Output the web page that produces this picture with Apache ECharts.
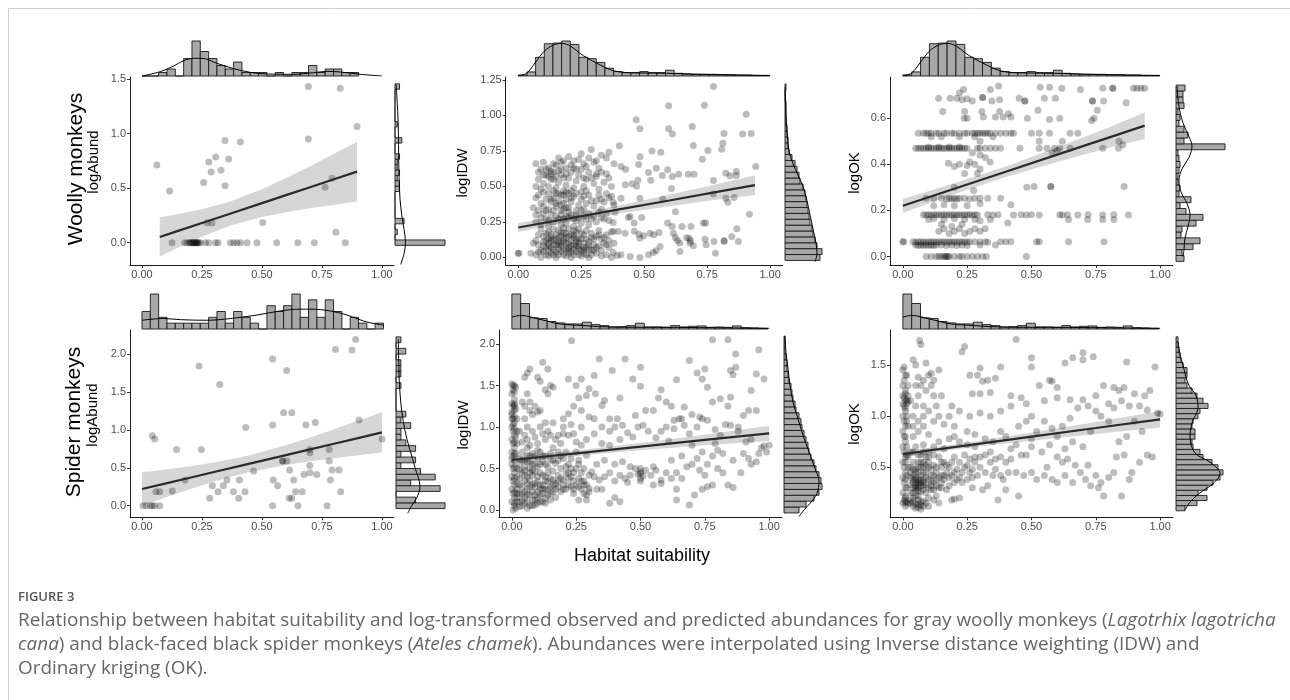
<!DOCTYPE html>
<html><head><meta charset="utf-8">
<script src="https://cdn.jsdelivr.net/npm/echarts@6/dist/echarts.min.js"></script>
<style>html,body{margin:0;padding:0;background:#fff}#c{width:1290px;height:700px}</style>
</head><body><div id="c"></div><script>
// ---------------- DATA ----------------
const X_TICKS = [0, 0.25, 0.5, 0.75, 1];
const yTicksWoollyAbund = [0, 0.5, 1, 1.5];
const yTicksWoollyIDW = [0, 0.25, 0.5, 0.75, 1, 1.25];
const yTicksWoollyOK = [0, 0.2, 0.4, 0.6];
const yTicksSpiderAbund = [0, 0.5, 1, 1.5, 2];
const yTicksSpiderIDW = [0, 0.5, 1, 1.5, 2];
const yTicksSpiderOK = [0.5, 1, 1.5];

// observed points [habitat suitability, log value]
const woollyAbund = [[0.062,0.713],[0.115,0.474],[0.125,0],[0.178,0],[0.188,0],[0.198,0],[0.2,0],[0.205,0],[0.21,0],[0.215,0],[0.215,0],[0.22,0],[0.225,0],[0.225,0],[0.23,0],[0.232,0],[0.236,0],[0.243,0],[0.264,0],[0.278,0],[0.306,0],[0.317,0],[0.271,0.18],[0.292,0.18],[0.257,0.551],[0.278,0.741],[0.288,0.649],[0.307,0.787],[0.329,0.664],[0.346,0.937],[0.346,0.523],[0.361,0.768],[0.41,0.924],[0.368,0],[0.382,0],[0.396,0],[0.41,0],[0.4375,0],[0.479,0],[0.503,0.184],[0.561,0],[0.649,0],[0.693,1.432],[0.693,0.952],[0.718,0],[0.7625,0.508],[0.792,0.59],[0.808,0.095],[0.826,1.417],[0.847,0],[0.896,1.065]];

const woollyIDW = [[0,0.03],[0.002,0.03],[0.05,0.03],[0.07,0.02],[0.09,0],[0.1,0.04],[0.12,0.01],[0.13,0.03],[0.15,0],[0.16,0.02],[0.17,0.04],[0.19,0.01],[0.2,0.03],[0.21,0],[0.22,0.02],[0.23,0.04],[0.25,0.01],[0.26,0.03],[0.28,0],[0.29,0.02],[0.31,0.03],[0.33,0.01],[0.35,0.02],[0.37,0],[0.14,0.05],[0.18,0.06],[0.24,0.06],[0.11,0.07],
[0.08,0.09],[0.1,0.08],[0.12,0.1],[0.13,0.07],[0.15,0.09],[0.16,0.11],[0.17,0.08],[0.19,0.1],[0.2,0.07],[0.21,0.12],[0.22,0.09],[0.23,0.11],[0.24,0.08],[0.26,0.1],[0.27,0.07],[0.28,0.11],[0.3,0.09],[0.32,0.08],[0.34,0.1],[0.36,0.07],[0.07,0.12],[0.11,0.12],[0.14,0.12],[0.18,0.13],[0.25,0.13],[0.29,0.14],[0.33,0.13],
[0.08,0.16],[0.1,0.15],[0.12,0.18],[0.13,0.14],[0.15,0.16],[0.16,0.19],[0.17,0.15],[0.19,0.17],[0.2,0.2],[0.21,0.16],[0.22,0.14],[0.23,0.18],[0.24,0.2],[0.26,0.16],[0.27,0.19],[0.29,0.17],[0.31,0.15],[0.32,0.19],[0.35,0.16],[0.37,0.18],[0.09,0.2],[0.18,0.21],[0.14,0.2],
[0.07,0.25],[0.09,0.23],[0.11,0.27],[0.12,0.22],[0.14,0.25],[0.15,0.29],[0.17,0.23],[0.18,0.27],[0.19,0.24],[0.2,0.28],[0.22,0.22],[0.23,0.26],[0.25,0.24],[0.26,0.29],[0.28,0.23],[0.29,0.27],[0.31,0.25],[0.33,0.28],[0.36,0.26],[0.21,0.3],[0.13,0.3],[0.1,0.31],
[0.06,0.35],[0.08,0.33],[0.09,0.38],[0.1,0.36],[0.11,0.41],[0.12,0.34],[0.13,0.39],[0.14,0.42],[0.15,0.36],[0.16,0.4],[0.17,0.33],[0.17,0.44],[0.18,0.38],[0.19,0.41],[0.2,0.35],[0.21,0.39],[0.22,0.43],[0.23,0.33],[0.24,0.37],[0.25,0.41],[0.26,0.34],[0.27,0.38],[0.28,0.44],[0.3,0.36],[0.31,0.4],[0.33,0.34],[0.34,0.39],[0.36,0.42],[0.38,0.37],[0.07,0.42],[0.15,0.45],[0.2,0.45],[0.25,0.46],
[0.07,0.5],[0.08,0.55],[0.09,0.48],[0.1,0.52],[0.11,0.58],[0.12,0.5],[0.13,0.55],[0.14,0.6],[0.15,0.49],[0.16,0.53],[0.17,0.58],[0.18,0.47],[0.19,0.51],[0.2,0.56],[0.21,0.6],[0.22,0.49],[0.23,0.54],[0.24,0.58],[0.26,0.5],[0.27,0.55],[0.28,0.6],[0.3,0.52],[0.31,0.57],[0.32,0.48],[0.34,0.53],[0.35,0.59],[0.37,0.5],
[0.07,0.66],[0.09,0.62],[0.1,0.67],[0.12,0.63],[0.13,0.61],[0.15,0.65],[0.16,0.7],[0.18,0.68],[0.19,0.63],[0.2,0.71],[0.21,0.65],[0.23,0.62],[0.24,0.69],[0.25,0.73],[0.27,0.64],[0.28,0.7],[0.29,0.76],[0.3,0.67],[0.32,0.63],[0.33,0.72],[0.35,0.7],[0.36,0.74],[0.38,0.66],[0.31,0.59],
[0.09,0.05],[0.11,0.02],[0.13,0.12],[0.15,0.04],[0.17,0.1],[0.19,0.06],[0.21,0.04],[0.23,0.08],[0.25,0.05],[0.27,0.02],[0.12,0.05],[0.16,0.06],[0.2,0.1],[0.24,0.02],[0.28,0.06],[0.18,0.02],[0.22,0.06],[0.14,0.09],[0.26,0.07],[0.3,0.05],[0.16,0.14],[0.2,0.15],[0.24,0.13],[0.18,0.17],[0.22,0.19],[0.12,0.13],[0.13,0.41],[0.17,0.37],[0.21,0.42],[0.19,0.35],[0.15,0.38],[0.12,0.57],[0.16,0.61],[0.14,0.55],[0.18,0.56],
[0.06,0.1],[0.08,0.04],[0.1,0.11],[0.11,0.17],[0.12,0.08],[0.13,0.16],[0.14,0.02],[0.15,0.13],[0.16,0.09],[0.17,0.18],[0.18,0.11],[0.19,0.14],[0.2,0.05],[0.21,0.08],[0.22,0.16],[0.23,0.13],[0.24,0.1],[0.25,0.17],[0.26,0.05],[0.27,0.13],[0.28,0.09],[0.29,0.05],[0.3,0.13],[0.31,0.07],[0.32,0.16],[0.33,0.05],[0.34,0.14],[0.35,0.09],[0.36,0.12],[0.38,0.1],
[0.07,0.3],[0.09,0.28],[0.11,0.33],[0.12,0.26],[0.14,0.33],[0.16,0.27],[0.17,0.3],[0.18,0.34],[0.19,0.29],[0.2,0.32],[0.22,0.27],[0.23,0.3],[0.24,0.28],[0.25,0.33],[0.27,0.27],[0.28,0.31],[0.3,0.29],[0.32,0.32],[0.34,0.27],[0.35,0.31],
[0.08,0.44],[0.1,0.46],[0.12,0.45],[0.14,0.47],[0.16,0.45],[0.18,0.44],[0.19,0.46],[0.21,0.47],[0.23,0.45],[0.26,0.43],[0.27,0.47],[0.29,0.4],[0.32,0.44],[0.33,0.41],[0.35,0.45],[0.37,0.43],
[0.08,0.6],[0.1,0.58],[0.11,0.62],[0.13,0.59],[0.15,0.57],[0.17,0.62],[0.19,0.59],[0.22,0.63],[0.25,0.62],[0.26,0.56],[0.29,0.56],[0.33,0.6],[0.36,0.56],[0.14,0.66],[0.17,0.67],[0.22,0.68],[0.26,0.66],[0.31,0.68],
[0.468,0.969],[0.597,1.067],[0.483,0.905],[0.597,0.905],[0.612,0.868],[0.691,0.922],[0.739,1.072],[0.775,1.203],[0.905,1.008],[0.891,0.868],[0.925,0.872],[0.817,0.872],[0.812,0.804],[0.808,0.762],[0.753,0.753],[0.695,0.788],[0.731,0.692],[0.943,0.64],[0.531,0.75],[0.566,0.741],[0.483,0.708],[0.478,0.654],[0.401,0.786],[0.408,0.64],[0.426,0.621],[0.548,0.628],[0.517,0.598],[0.593,0.617],[0.637,0.586],[0.675,0.586],[0.698,0.586],[0.572,0.577],[0.612,0.57],[0.475,0.544],[0.425,0.511],[0.452,0.518],[0.47,0.502],[0.526,0.544],[0.608,0.485],[0.775,0.542],[0.824,0.593],[0.841,0.575],[0.866,0.577],[0.866,0.605],[0.775,0.446],[0.824,0.417],[0.857,0.422],[0.832,0.389],[0.483,0.417],[0.574,0.41],[0.408,0.417],[0.437,0.281],[0.49,0.281],[0.624,0.321],[0.918,0.305],[0.735,0.242],[0.744,0.242],[0.593,0.242],[0.611,0.218],[0.46,0.242],[0.377,0.246],[0.686,0.218],[0.65,0.218],[0.377,0.185],[0.397,0.183],[0.424,0.171],[0.461,0.185],[0.479,0.164],[0.483,0.136],[0.498,0.152],[0.523,0.171],[0.538,0.159],[0.559,0.176],[0.616,0.171],[0.624,0.141],[0.632,0.12],[0.641,0.101],[0.668,0.138],[0.679,0.136],[0.682,0.101],[0.684,0.117],[0.742,0.129],[0.777,0.113],[0.817,0.12],[0.818,0.113],[0.848,0.148],[0.868,0.202],[0.874,0.113],[0.783,0.03],[0.746,0.089],[0.695,0.082],[0.642,0.042],[0.563,0.077],[0.547,0.047],[0.536,0.035],[0.517,0.019],[0.483,0],[0.444,0.007],[0.408,0.019],[0.393,0.014],[0.377,0.035],[0.444,0.288],[0.377,0.389],[0.384,0.319]];

const woollyOK = [[0.09,0],[0.11,0],[0.13,0],[0.14,0],[0.15,0],[0.16,0],[0.165,0],[0.17,0],[0.175,0],[0.18,0],[0.2,0],[0.22,0],[0.23,0],[0.25,0],[0.27,0],[0.29,0],[0.31,0],[0.325,0],[0.48,0],
[0,0.064],[0.003,0.064],[0.04,0.064],[0.05,0.062],[0.06,0.064],[0.07,0.063],[0.08,0.064],[0.09,0.062],[0.1,0.064],[0.11,0.063],[0.12,0.064],[0.13,0.062],[0.14,0.064],[0.15,0.063],[0.16,0.064],[0.17,0.062],[0.18,0.064],[0.19,0.063],[0.2,0.064],[0.21,0.062],[0.22,0.064],[0.23,0.063],[0.24,0.064],[0.25,0.062],[0.26,0.064],[0.28,0.064],[0.3,0.063],[0.32,0.064],[0.33,0.062],[0.38,0.064],[0.4,0.064],[0.42,0.064],[0.52,0.064],[0.53,0.064],[0.644,0.064],[0.782,0.064],
[0.05,0.05],[0.06,0.048],[0.07,0.05],[0.08,0.048],[0.09,0.05],[0.1,0.048],[0.11,0.05],[0.12,0.048],[0.13,0.05],[0.15,0.05],[0.17,0.048],[0.19,0.05],[0.21,0.048],[0.23,0.05],[0.25,0.048],[0.3,0.05],[0.36,0.05],
[0.14,0.11],[0.16,0.12],[0.18,0.1],[0.2,0.11],[0.22,0.12],[0.24,0.1],[0.26,0.11],[0.28,0.12],[0.3,0.11],[0.32,0.12],[0.15,0.14],[0.19,0.13],[0.23,0.14],[0.408,0.145],
[0.08,0.181],[0.09,0.18],[0.1,0.181],[0.11,0.18],[0.12,0.181],[0.13,0.18],[0.14,0.181],[0.15,0.18],[0.16,0.181],[0.17,0.18],[0.18,0.181],[0.19,0.18],[0.2,0.181],[0.21,0.18],[0.22,0.181],[0.23,0.18],[0.24,0.181],[0.25,0.18],[0.26,0.181],[0.27,0.18],[0.28,0.181],[0.29,0.18],[0.33,0.181],[0.35,0.18],[0.37,0.181],[0.43,0.18],[0.46,0.181],[0.48,0.18],[0.5,0.181],[0.53,0.18],[0.61,0.181],[0.62,0.18],[0.64,0.181],[0.68,0.18],[0.72,0.181],[0.777,0.18],[0.82,0.181],[0.877,0.18],
[0.1,0.16],[0.12,0.165],[0.16,0.16],[0.2,0.165],[0.24,0.16],[0.28,0.16],[0.3,0.155],[0.34,0.16],[0.644,0.16],[0.718,0.16],[0.777,0.16],[0.82,0.16],
[0.09,0.253],[0.12,0.253],[0.15,0.253],[0.17,0.25],[0.18,0.253],[0.19,0.25],[0.2,0.253],[0.21,0.25],[0.22,0.253],[0.24,0.253],[0.26,0.25],[0.28,0.253],[0.3,0.253],[0.33,0.253],[0.38,0.253],
[0.12,0.22],[0.16,0.225],[0.2,0.22],[0.25,0.22],[0.3,0.23],[0.42,0.224],
[0.275,0.286],[0.482,0.3],[0.51,0.304],[0.575,0.304],[0.575,0.304],[0.86,0.304],[0.2,0.3],
[0.177,0.405],[0.2,0.39],[0.22,0.4],[0.25,0.395],[0.26,0.41],[0.28,0.4],[0.3,0.38],[0.339,0.41],[0.24,0.36],[0.29,0.36],
[0.05,0.47],[0.06,0.47],[0.07,0.47],[0.08,0.47],[0.09,0.47],[0.1,0.47],[0.11,0.47],[0.12,0.47],[0.13,0.47],[0.14,0.47],[0.15,0.47],[0.16,0.47],[0.17,0.47],[0.18,0.47],[0.19,0.47],[0.2,0.47],[0.21,0.47],[0.22,0.47],[0.23,0.47],[0.24,0.47],[0.25,0.47],[0.29,0.47],[0.3,0.47],[0.32,0.47],[0.34,0.47],[0.36,0.47],[0.38,0.47],[0.455,0.47],[0.53,0.47],[0.56,0.47],[0.59,0.47],[0.61,0.47],[0.65,0.47],[0.777,0.47],[0.838,0.47],[0.1,0.475],[0.14,0.475],[0.18,0.475],[0.22,0.475],
[0.27,0.45],[0.3,0.44],[0.58,0.45],[0.6,0.46],[0.32,0.43],
[0.3,0.5],[0.53,0.5],[0.62,0.5],[0.84,0.5],[0.855,0.485],
[0.06,0.535],[0.08,0.535],[0.09,0.535],[0.1,0.535],[0.11,0.535],[0.13,0.535],[0.14,0.535],[0.16,0.535],[0.17,0.535],[0.19,0.535],[0.2,0.535],[0.22,0.535],[0.24,0.535],[0.25,0.535],[0.27,0.535],[0.28,0.535],[0.29,0.535],[0.3,0.535],[0.31,0.535],[0.32,0.535],[0.33,0.535],[0.34,0.535],[0.36,0.535],[0.38,0.535],[0.4,0.535],[0.42,0.535],[0.43,0.535],[0.5,0.535],[0.53,0.535],[0.57,0.535],[0.65,0.535],[0.68,0.535],[0.11,0.52],[0.15,0.52],[0.22,0.52],[0.28,0.52],[0.35,0.52],
[0.238,0.6],[0.313,0.605],[0.36,0.605],[0.39,0.605],[0.42,0.605],[0.484,0.6],[0.57,0.595],[0.61,0.6],[0.734,0.59],[0.743,0.6],[0.25,0.6],
[0.155,0.629],[0.24,0.629],[0.307,0.629],[0.376,0.629],[0.41,0.62],[0.525,0.635],[0.756,0.635],
[0.139,0.687],[0.184,0.687],[0.21,0.687],[0.23,0.68],[0.25,0.685],[0.31,0.69],[0.31,0.69],[0.346,0.675],[0.376,0.68],[0.452,0.687],[0.474,0.675],[0.474,0.675],[0.55,0.687],[0.593,0.687],[0.737,0.675],[0.737,0.675],[0.78,0.675],[0.868,0.667],[0.27,0.675],
[0.236,0.725],[0.22,0.71],[0.34,0.725],[0.372,0.74],[0.534,0.735],[0.57,0.735],[0.618,0.73],[0.69,0.725],[0.777,0.73],[0.816,0.73],[0.816,0.73],[0.896,0.73],[0.91,0.73],[0.925,0.73],[0.94,0.73]];

const spiderAbund = [[0.004,0],[0.018,0],[0.035,0],[0.043,0],[0.053,0],[0.043,0.923],[0.053,0.879],[0.058,0.185],[0.074,0.185],[0.074,0],[0.126,0.193],[0.144,0.743],[0.179,0.338],[0.2375,1.842],[0.247,0.743],[0.282,0.097],[0.293,0.264],[0.317,0.185],[0.324,1.6],[0.339,0.264],[0.354,0.338],[0.381,0.185],[0.403,0.097],[0.406,0.338],[0.429,0.185],[0.432,1.033],[0.465,0.457],[0.544,1.934],[0.544,1.064],[0.547,0.338],[0.544,0],[0.565,0.264],[0.585,0.589],[0.587,0.589],[0.603,1.785],[0.603,0.589],[0.615,0.47],[0.59,1.226],[0.624,1.226],[0.613,0.097],[0.624,0.097],[0.632,0.338],[0.64,0.185],[0.65,0],[0.668,0.185],[0.675,0.413],[0.683,1.064],[0.722,1.099],[0.699,0.743],[0.7,0.7],[0.699,0.532],[0.7,0.435],[0.728,0.413],[0.771,0],[0.78,0.743],[0.78,0.589],[0.785,0.338],[0.792,0.47],[0.806,2.062],[0.821,0.47],[0.828,0.185],[0.875,2.053],[0.89,2.193],[0.904,1.13],[1.0,0.879]];

const spiderIDW = [[0.005,0],[0.01,0.05],[0,0.1],[0.01,0.15],[0.005,0.2],[0,0.25],[0.01,0.3],[0.005,0.35],[0,0.4],[0.01,0.45],[0.005,0.5],[0,0.55],[0.01,0.6],[0.005,0.65],[0,0.7],[0.01,0.75],[0.005,0.8],[0,0.85],[0.01,0.9],[0.005,0.95],[0,1.0],[0.01,1.05],[0.005,1.1],[0,1.15],[0.01,1.2],[0.005,1.25],[0,1.28],[0.01,1.33],[0,1.4],[0.005,1.45],[0.01,1.5],[0,1.52],[0.015,1.48],[0,1.18],[0.015,1.22],[0.005,1.03],[0.015,0.88],[0,0.62],[0.015,0.68],[0.02,0.95],[0.02,0.8],[0.02,1.1],[0.02,0.4],[0.02,0.25],[0.02,0.1],[0.015,0.02],[0,1.1],[0.01,1.26],
[0.01,0.08],[0.01,0.22],[0.01,0.38],[0.01,0.52],[0.01,0.68],[0.01,0.82],[0.01,0.98],[0.01,1.12],[0.01,1.28],[0.01,1.42],[0.005,1.5],
[0.03,0.1],[0.04,0.2],[0.05,0.15],[0.06,0.25],[0.07,0.05],[0.08,0.3],[0.09,0.18],[0.1,0.22],[0.03,0.3],[0.05,0.35],[0.04,0.45],[0.06,0.4],[0.07,0.5],[0.08,0.42],[0.09,0.55],[0.1,0.35],[0.11,0.45],[0.12,0.3],[0.13,0.4],[0.14,0.52],[0.15,0.38],[0.16,0.47],[0.17,0.32],[0.18,0.42],[0.19,0.5],[0.2,0.36],[0.21,0.44],[0.22,0.55],[0.23,0.4],[0.25,0.5],[0.27,0.45],[0.28,0.3],[0.3,0.42],[0.03,0.55],[0.05,0.6],[0.07,0.65],[0.04,0.7],[0.06,0.75],[0.08,0.68],[0.1,0.62],[0.12,0.58],[0.11,0.7],[0.13,0.65],[0.15,0.6],[0.17,0.56],[0.18,0.7],[0.2,0.62],[0.03,0.04],[0.05,0.08],[0.06,0.02],[0.08,0.12],[0.09,0.06],[0.1,0.15],[0.11,0.1],[0.12,0.2],[0.13,0.25],[0.14,0.18],[0.15,0.28],[0.16,0.22],[0.04,0.12],[0.06,0.18],[0.07,0.28],[0.09,0.32],[0.11,0.26],[0.13,0.14],[0.02,0.2],[0.03,0.38],[0.05,0.48],[0.07,0.36],[0.09,0.46],[0.1,0.52],[0.12,0.42],[0.14,0.34],[0.16,0.3],[0.18,0.28],[0.2,0.25],[0.22,0.3],[0.24,0.35],[0.26,0.28],[0.27,0.25],[0.28,0.2],[0.29,0.18],[0.3,0.26],[0.26,0.38],[0.24,0.45],[0.22,0.38],[0.06,0.58],[0.04,0.82],[0.05,0.9],[0.06,0.85],[0.07,0.78],[0.08,0.95],[0.09,0.88],[0.1,0.8],[0.11,1.0],[0.12,0.92],[0.13,0.85],[0.05,1.1],[0.06,1.0],[0.07,1.2],[0.08,1.15],[0.1,1.18],[0.11,1.2],[0.13,1.05],[0.14,0.95],[0.15,0.9],[0.04,1.3],[0.05,1.25],[0.07,1.3],[0.06,1.4],[0.05,1.6],[0.06,1.65],[0.07,1.7],[0.1,1.6],[0.11,1.55],[0.13,1.45],[0.12,1.78],[0.14,1.7],[0.15,1.5],[0.16,1.48],[0.14,1.4],[0.16,0.75],[0.17,0.85],[0.18,0.9],[0.19,0.8],[0.2,0.92],[0.21,0.7],[0.2,1.0],[0.16,1.05],[0.03,0.62],[0.02,0.5],[0.08,0.55],[0.1,0.72],[0.03,0.95],[0.09,1.25],
[0.02,0.15],[0.03,0.2],[0.04,0.28],[0.04,0.05],[0.05,0.22],[0.05,0.42],[0.06,0.1],[0.06,0.32],[0.07,0.18],[0.07,0.45],[0.08,0.22],[0.08,0.05],[0.09,0.28],[0.09,0.12],[0.1,0.4],[0.1,0.08],[0.11,0.3],[0.11,0.18],[0.12,0.1],[0.12,0.25],[0.13,0.35],[0.13,0.08],[0.14,0.25],[0.14,0.45],[0.15,0.2],[0.15,0.12],[0.16,0.36],[0.17,0.25],[0.17,0.15],[0.18,0.35],[0.19,0.22],[0.19,0.38],[0.2,0.3],[0.21,0.25],[0.22,0.45],[0.23,0.28],[0.24,0.25],[0.25,0.3],[0.02,0.32],[0.03,0.48],[0.04,0.6],[0.05,0.52],[0.06,0.66],[0.07,0.58],[0.08,0.48],[0.09,0.65],[0.11,0.55],[0.12,0.65],[0.13,0.55],[0.15,0.68],[0.16,0.6],[0.18,0.6],[0.19,0.65],[0.21,0.52],[0.23,0.5],[0.26,0.55],[0.28,0.5],[0.29,0.3],[0.27,0.35],
[0.232,2.04],[0.22,1.58],[0.27,1.58],[0.25,1.5],[0.26,1.35],[0.29,1.38],[0.24,1.25],[0.32,1.62],[0.34,1.82],[0.3,1.46],[0.325,1.4],[0.36,1.32],[0.35,1.26],[0.39,1.68],[0.42,1.35],[0.44,1.82],[0.47,1.58],[0.5,1.72],[0.5,1.49],[0.58,1.45],[0.6,1.3],[0.62,1.25],[0.57,1.35],[0.64,1.57],[0.69,1.8],[0.72,1.65],[0.75,1.7],[0.74,1.58],[0.76,1.48],[0.78,2.05],[0.84,2.05],[0.87,1.88],[0.87,1.72],[0.85,1.68],[0.86,1.63],[0.96,1.93],[0.95,1.64],[0.98,1.58],[0.93,1.44],[0.85,1.36],[0.81,1.34],[0.78,1.3],[0.84,1.25],[0.88,1.0],[0.92,1.2],[0.95,1.2],[0.9,1.14],[0.73,1.12],[0.7,1.15],[0.67,1.24],[0.66,1.1],[0.63,1.08],[0.55,1.2],[0.52,1.2],[0.48,1.14],[0.41,1.1],[0.38,1.1],[0.3,1.12],[0.32,1.1],[0.27,1.2],[0.22,1.16],[0.2,1.1],[0.22,0.9],[0.25,0.82],[0.27,0.78],[0.29,0.85],[0.32,0.92],[0.35,0.8],[0.38,0.78],[0.4,1.0],[0.43,1.02],[0.45,0.93],[0.47,0.88],[0.49,1.0],[0.51,1.02],[0.53,0.95],[0.56,0.87],[0.58,0.95],[0.6,1.0],[0.63,0.98],[0.65,1.1],[0.67,1.02],[0.69,0.92],[0.72,1.0],[0.74,1.1],[0.76,1.08],[0.79,0.97],[0.81,0.9],[0.83,1.03],[0.85,1.02],[0.88,0.95],[0.91,0.82],[0.93,0.85],[0.97,0.75],[0.99,0.7],[1.0,0.78],[0.95,0.58],[0.92,0.62],[0.89,0.45],[0.9,0.68],[0.86,0.6],[0.82,0.68],[0.79,0.8],[0.78,0.65],[0.76,0.55],[0.73,0.48],[0.7,0.55],[0.68,0.52],[0.66,0.38],[0.64,0.45],[0.62,0.38],[0.6,0.45],[0.58,0.36],[0.56,0.48],[0.54,0.42],[0.52,0.48],[0.5,0.5],[0.5,0.46],[0.48,0.5],[0.46,0.42],[0.44,0.38],[0.42,0.42],[0.4,0.35],[0.38,0.45],[0.36,0.4],[0.34,0.36],[0.32,0.4],[0.31,0.46],[0.33,0.55],[0.36,0.6],[0.4,0.55],[0.43,0.58],[0.46,0.52],[0.55,0.52],[0.62,0.6],[0.66,0.65],[0.72,0.62],[0.75,0.42],[0.8,0.5],[0.82,0.45],[0.84,0.3],[0.86,0.27],[0.78,0.3],[0.76,0.28],[0.74,0.25],[0.71,0.18],[0.69,0.06],[0.64,0.12],[0.64,0.25],[0.58,0.32],[0.55,0.3],[0.5,0.35],[0.45,0.33],[0.42,0.1],[0.4,0.15],[0.38,0.08],[0.35,0.25],[0.33,0.25],[0.3,0.22],[0.29,0.12],[0.26,0.12],[0.24,0.2],[0.28,0.35],[0.26,0.6],[0.23,0.62],[0.25,0.7],[0.29,0.66],[0.24,0.92],[0.27,1.0],[0.23,1.03],[0.35,1.0],[0.38,0.95],[0.42,0.85],[0.61,0.83],[0.7,0.78],[0.74,0.7],[0.8,0.72],[0.98,0.77],[0.96,0.68],[0.93,0.55],[0.49,0.43],[0.51,0.41],[0.5,0.44],[0.5,0.38]];

const spiderOK = [[0,0.15],[0.005,0.18],[0.01,0.2],[0,0.25],[0.01,0.3],[0.005,0.35],[0,0.4],[0.01,0.45],[0.005,0.5],[0,0.55],[0.01,0.6],[0.005,0.65],[0,0.7],[0.01,0.75],[0.005,0.8],[0,0.85],[0.01,0.9],[0.005,0.95],[0,1.0],[0.01,1.05],[0.005,1.1],[0,1.12],[0.01,1.15],[0.005,1.18],[0,1.2],[0.01,1.25],[0,1.3],[0.005,1.35],[0.01,1.4],[0,1.45],[0.005,1.48],[0.015,1.12],[0.015,1.16],[0.02,1.2],[0.015,0.16],[0.02,0.14],[0.01,0.12],[0.02,1.3],[0.015,1.0],[0.02,0.9],[0.015,0.7],[0.02,0.5],
[0.01,0.16],[0.01,0.22],[0.015,0.3],[0.01,0.38],[0.015,0.42],[0.01,0.55],[0.015,0.62],[0.01,0.8],[0.015,0.95],[0.01,1.08],[0.02,1.14],[0.01,1.22],[0.015,1.4],
[0.03,0.15],[0.04,0.12],[0.05,0.1],[0.06,0.14],[0.07,0.09],[0.08,0.12],[0.03,0.25],[0.04,0.3],[0.05,0.35],[0.06,0.3],[0.05,0.4],[0.06,0.45],[0.07,0.38],[0.08,0.32],[0.04,0.42],[0.05,0.28],[0.06,0.22],[0.07,0.26],[0.08,0.45],[0.09,0.4],[0.1,0.5],[0.11,0.42],[0.12,0.35],[0.13,0.45],[0.14,0.4],[0.15,0.5],[0.16,0.42],[0.18,0.4],[0.2,0.45],[0.22,0.4],[0.24,0.5],[0.26,0.45],[0.28,0.55],[0.03,0.5],[0.04,0.55],[0.05,0.48],[0.06,0.55],[0.07,0.5],[0.08,0.55],[0.09,0.6],[0.1,0.55],[0.12,0.52],[0.14,0.6],[0.16,0.55],[0.18,0.5],[0.2,0.6],[0.22,0.55],[0.24,0.62],[0.26,0.58],[0.28,0.6],[0.3,0.5],[0.32,0.45],[0.34,0.55],[0.36,0.48],[0.38,0.42],[0.03,0.65],[0.05,0.7],[0.07,0.62],[0.08,0.72],[0.1,0.65],[0.12,0.7],[0.14,0.75],[0.16,0.68],[0.18,0.78],[0.2,0.8],[0.22,0.75],[0.04,0.8],[0.06,0.85],[0.08,0.9],[0.1,0.82],[0.12,0.95],[0.14,1.0],[0.16,0.92],[0.04,1.0],[0.05,1.1],[0.06,1.2],[0.07,1.3],[0.08,1.1],[0.09,1.25],[0.1,1.4],[0.11,1.3],[0.12,1.35],[0.13,1.1],[0.14,1.45],[0.15,1.2],[0.06,1.38],[0.07,1.7],[0.065,1.74],[0.04,1.55],[0.05,1.5],[0.09,1.52],[0.11,1.42],[0.1,0.2],[0.12,0.18],[0.11,0.28],[0.13,0.22],[0.15,0.3],[0.17,0.28],[0.19,0.18],[0.2,0.19],[0.22,0.2],[0.14,0.15],[0.06,0.18],[0.04,0.2],[0.07,0.16],[0.09,0.25],[0.04,0.35],[0.06,0.38],[0.07,0.32],[0.08,0.38],[0.05,0.3],[0.03,0.4],[0.09,0.33],[0.1,0.3],[0.11,0.36],[0.13,0.32],[0.15,0.35],[0.17,0.45],[0.19,0.42],[0.21,0.38],[0.23,0.35],[0.25,0.38],[0.27,0.3],[0.29,0.42],
[0.03,0.18],[0.04,0.16],[0.05,0.14],[0.06,0.11],[0.07,0.13],[0.08,0.17],[0.09,0.15],[0.1,0.12],[0.03,0.33],[0.04,0.38],[0.05,0.32],[0.05,0.38],[0.06,0.35],[0.06,0.33],[0.07,0.35],[0.04,0.25],[0.05,0.22],[0.06,0.27],[0.07,0.42],[0.08,0.28],[0.08,0.35],[0.09,0.45],[0.1,0.38],[0.11,0.32],[0.12,0.42],[0.12,0.28],[0.13,0.38],[0.14,0.3],[0.15,0.42],[0.16,0.38],[0.18,0.32],[0.2,0.35],[0.03,0.45],[0.04,0.48],[0.05,0.45],[0.06,0.5],[0.07,0.55],[0.08,0.5],[0.09,0.52],[0.11,0.48],[0.13,0.5],[0.15,0.55],[0.17,0.52],[0.19,0.55],[0.21,0.48],[0.23,0.45],[0.25,0.52],[0.27,0.4],[0.02,0.6],[0.04,0.65],[0.06,0.62],[0.08,0.65],[0.1,0.6],[0.12,0.62],[0.04,0.9],[0.06,0.95],[0.08,1.0],[0.1,1.05],[0.03,1.15],[0.05,1.3],[0.08,1.35],[0.12,1.2],
[0.23,1.63],[0.24,1.68],[0.44,1.75],[0.26,1.4],[0.29,1.4],[0.3,1.47],[0.31,1.34],[0.33,1.35],[0.36,1.37],[0.38,1.48],[0.27,1.22],[0.3,1.22],[0.34,1.23],[0.42,1.2],[0.46,1.18],[0.5,1.57],[0.5,1.48],[0.53,1.3],[0.57,1.35],[0.58,1.34],[0.6,1.28],[0.63,1.52],[0.66,1.57],[0.7,1.62],[0.7,1.55],[0.74,1.58],[0.87,1.53],[0.98,1.48],[0.78,1.3],[0.82,1.28],[0.84,1.25],[0.86,1.28],[0.9,1.22],[0.94,1.2],[0.96,1.25],[0.75,1.2],[0.7,1.16],[0.65,1.16],[0.6,1.18],[0.55,1.15],[0.48,1.12],[0.42,1.1],[0.38,1.05],[0.34,1.0],[0.3,1.03],[0.26,1.0],[0.22,1.05],[0.19,1.1],[0.18,1.0],[0.2,0.9],[0.25,0.85],[0.28,0.82],[0.32,0.78],[0.35,0.75],[0.38,0.85],[0.4,0.8],[0.45,0.9],[0.48,0.95],[0.5,1.0],[0.52,0.85],[0.55,0.95],[0.58,0.88],[0.6,0.8],[0.62,0.9],[0.65,0.98],[0.68,1.08],[0.72,1.1],[0.75,1.05],[0.77,1.0],[0.8,1.12],[0.82,1.08],[0.85,1.15],[0.88,1.1],[0.92,1.1],[0.95,1.06],[0.99,1.03],[1.0,1.02],[0.9,0.95],[0.93,0.85],[0.87,0.8],[0.84,0.75],[0.8,0.95],[0.73,0.85],[0.7,0.7],[0.66,0.75],[0.63,0.68],[0.57,0.72],[0.54,0.65],[0.5,0.7],[0.46,0.62],[0.42,0.58],[0.4,0.55],[0.44,0.45],[0.47,0.42],[0.5,0.45],[0.52,0.38],[0.55,0.42],[0.58,0.38],[0.6,0.35],[0.63,0.42],[0.64,0.58],[0.67,0.52],[0.69,0.45],[0.71,0.38],[0.73,0.32],[0.75,0.42],[0.77,0.35],[0.78,0.22],[0.76,0.3],[0.82,0.45],[0.83,0.6],[0.86,0.62],[0.89,0.45],[0.85,0.22],[0.95,0.62],[0.97,0.6],[0.92,0.55],[0.88,0.38],[0.45,0.22],[0.4,0.28],[0.37,0.18],[0.33,0.32],[0.31,0.28],[0.3,0.6],[0.32,0.62],[0.34,0.65],[0.36,0.58],[0.38,0.6],[0.42,0.68],[0.44,0.72],[0.48,0.62],[0.28,0.7],[0.25,0.72],[0.5,0.78],[0.6,0.6],[0.62,0.55],[0.56,0.5],[0.66,0.35],[0.72,0.52],[0.8,0.4],[0.27,0.48],[0.35,0.42],[0.39,0.38],[0.41,0.45]];

// linear fits with 95% band: [x, lower, fit, upper]
const fitWoollyAbund = [[0.074,-0.128,0.052,0.232],[0.15,-0.046,0.108,0.261],[0.25,0.056,0.181,0.306],[0.37,0.157,0.268,0.379],[0.5,0.236,0.363,0.491],[0.6,0.28,0.436,0.593],[0.7,0.316,0.509,0.702],[0.8,0.348,0.582,0.816],[0.896,0.377,0.652,0.927]];
const fitWoollyIDW = [[0,0.18,0.211,0.242],[0.2,0.25,0.274,0.298],[0.4,0.31,0.338,0.366],[0.6,0.36,0.401,0.442],[0.8,0.41,0.465,0.52],[0.94,0.44,0.509,0.578]];
const fitWoollyOK = [[0,0.19,0.22,0.25],[0.2,0.27,0.294,0.318],[0.4,0.345,0.368,0.391],[0.6,0.41,0.442,0.474],[0.8,0.472,0.516,0.56],[0.94,0.51,0.568,0.626]];
const fitSpiderAbund = [[0,0,0.22,0.44],[0.1,0.111,0.295,0.479],[0.2,0.218,0.369,0.52],[0.3,0.318,0.444,0.57],[0.44,0.439,0.549,0.659],[0.6,0.538,0.668,0.798],[0.7,0.586,0.743,0.9],[0.8,0.627,0.818,1.009],[0.9,0.664,0.892,1.12],[1,0.701,0.967,1.233]];
const fitSpiderIDW = [[0,0.56,0.602,0.644],[0.25,0.65,0.683,0.716],[0.5,0.72,0.763,0.806],[0.75,0.78,0.844,0.908],[1,0.832,0.924,1.016]];
const fitSpiderOK = [[0,0.6,0.63,0.66],[0.25,0.69,0.715,0.74],[0.5,0.76,0.8,0.84],[0.75,0.825,0.884,0.943],[1,0.889,0.969,1.049]];

// top marginal histograms of habitat suitability (counts per bin) + density outline
const topBinsWoollyAbund = {start:0, width:0.0347};
const topCountsWoollyAbund = [0,0,1,2,0,5,10,7,5,3,2,4,1,1,1,0,1,0,1,1,3,1,2,2,1,1];
const topDensWoollyAbund = [[0,0],[0.076,1.24],[0.132,2.86],[0.174,4.4],[0.215,5.05],[0.25,5.05],[0.313,3.6],[0.382,2.1],[0.451,1.05],[0.521,0.57],[0.632,0.48],[0.715,0.95],[0.771,1.33],[0.826,1.14],[0.91,0.48],[1.0,0]];
const topBinsWoollyGrid = {start:0, width:0.0344};
const topCountsWoollyGrid = [3,12,55,95,97,103,93,55,51,40,23,13,10,10,13,10,10,17,8,6,5,5,5,4,4,3,3,2,2];
const topDensWoollyGrid = [[0,1],[0.033,8],[0.069,41],[0.103,73],[0.139,91],[0.172,96],[0.208,88],[0.242,68],[0.278,51],[0.311,38],[0.345,25],[0.38,15],[0.43,10],[0.483,9],[0.589,8],[0.721,5],[0.854,3],[1.0,1]];
const topBinsSpiderAbund = {start:0, width:0.0347};
const topCountsSpiderAbund = [3,6,2,1,1,1,1,1,2,3,1,3,2,1,0,4,3,4,6,2,5,2,5,3,0,2,1,0,1];
const topDensSpiderAbund = [[0,1.5],[0.09,1.8],[0.16,1.6],[0.27,1.5],[0.37,1.8],[0.48,2.4],[0.576,3.1],[0.66,3.4],[0.70,3.4],[0.785,3.1],[0.854,2.4],[0.924,1.35],[0.972,0.9],[1.007,0.65]];
const topBinsSpiderGrid = {start:0, width:0.0343};
const topCountsSpiderGrid = [103,75,33,31,22,18,15,15,20,13,10,6,7,10,17,6,6,5,10,6,8,9,5,6,5,9,4,3,2];
const topDensSpiderGrid = [[0,35],[0.035,40],[0.07,36],[0.1,30],[0.14,23],[0.17,17],[0.21,13],[0.28,10],[0.34,7],[0.47,5],[0.6,5],[0.73,4],[0.86,3],[1.0,2]];

// right marginal histograms of the response (first bin centre, bin width, counts) + density outline [count, value]
const rightBinsWoollyAbund = {first:0, width:0.0494};
const rightCountsWoollyAbund = [22,0,1,0,4,0,0,0,0,0,2,2,1,2,1,1,2,0,0,3,0,0,1,0,0,0,0,0,0,2];
const rightDensWoollyAbund = [[0.5,1.45],[1.2,1.2],[1.5,1.0],[1.6,0.8],[1.8,0.6],[2.2,0.4],[3.0,0.25],[4.0,0.12],[4.6,0.0],[4.0,-0.1],[2.5,-0.2]];
const rightBinsWoollyIDW = {first:0, width:0.0414};
const rightCountsWoollyIDW = [35,37,32,30,28,27,25,24,23,22,21,20,18,15,14,12,10,7,4,3,3,2,2,1,1,1,1,0,0,1];
const rightDensWoollyIDW = [[0.3,1.2],[1,1.0],[2.5,0.85],[4,0.75],[8,0.66],[13,0.58],[18,0.5],[22,0.4],[25,0.3],[28,0.2],[31,0.1],[32,0.03],[30,-0.03]];
const rightBinsWoollyOK = {first:-0.0085, width:0.0255};
const rightCountsWoollyOK = [8,6,17,24,5,6,20,27,10,4,15,3,4,2,2,3,4,3,2,49,8,12,8,3,4,2,8,7,7,9];
const rightDensWoollyOK = [[1,0.74],[3,0.65],[7,0.58],[13,0.52],[16,0.48],[13,0.43],[6,0.38],[3,0.33],[5,0.28],[11,0.23],[14,0.18],[12,0.13],[9,0.08],[8,0.03],[7,0.0]];
const rightBinsSpiderAbund = {first:0, width:0.0755};
const rightCountsSpiderAbund = [10,4,0,9,3,8,5,1,4,1,4,2,1,1,3,1,2,0,0,0,0,1,0,1,1,1,0,2,0,1];
const rightDensSpiderAbund = [[0.48,2.2],[0.8,1.5],[1.8,1.0],[3.9,0.5],[4.9,0.25],[4.2,0.1],[3.2,0.0],[2.4,-0.1]];
const rightBinsSpiderIDW = {first:0, width:0.071};
const rightCountsSpiderIDW = [15,22,30,35,38,37,35,32,30,27,25,24,22,20,18,17,15,12,11,9,8,7,5,4,3,3,2,1,1,1];
const rightDensSpiderIDW = [[1,2.1],[2,1.9],[4,1.7],[6,1.5],[9,1.3],[14,1.1],[19,0.9],[25,0.7],[31,0.5],[35,0.35],[33,0.2],[26,0.08],[20,0.0],[15,-0.08]];
const rightBinsSpiderOK = {first:0.1, width:0.05};
const rightCountsSpiderOK = [9,21,31,22,31,37,44,47,42,36,27,24,17,16,19,19,16,17,22,24,32,27,21,16,11,9,11,11,7,5,4,3,2,2];
const rightDensSpiderOK = [[9,0.08],[14,0.16],[24,0.25],[37,0.34],[44,0.44],[34,0.55],[19,0.64],[14,0.8],[16,0.93],[22,1.09],[20,1.2],[13,1.3],[10,1.38],[7,1.5],[4,1.6],[2,1.73]];

// ---------------- LAYOUT / RENDER ----------------
const HIST_FILL = '#a8a8a8', HIST_STROKE = '#1a1a1a';
const PT_COLOR = 'rgba(0,0,0,0.33)';
const panels = [
  {pts:woollyAbund, fit:fitWoollyAbund, yr:[-0.205,1.52], yTicks:yTicksWoollyAbund, yDec:1,
   main:[130,77,264,188], topR:[130,41,264,35], rightR:[395,77,50,188],
   topBins:topBinsWoollyAbund, topCounts:topCountsWoollyAbund, topDens:topDensWoollyAbund,
   rBins:rightBinsWoollyAbund, rCounts:rightCountsWoollyAbund, rDens:rightDensWoollyAbund},
  {pts:woollyIDW, fit:fitWoollyIDW, yr:[-0.053,1.27], yTicks:yTicksWoollyIDW, yDec:2,
   main:[505.7,77,277,188], topR:[505.7,41,277,35], rightR:[785,77,37,188],
   topBins:topBinsWoollyGrid, topCounts:topCountsWoollyGrid, topDens:topDensWoollyGrid,
   rBins:rightBinsWoollyIDW, rCounts:rightCountsWoollyIDW, rDens:rightDensWoollyIDW},
  {pts:woollyOK, fit:fitWoollyOK, yr:[-0.037,0.779], yTicks:yTicksWoollyOK, yDec:1,
   main:[890,77,283,188], topR:[890,41,283,35], rightR:[1176,77,49,188],
   topBins:topBinsWoollyGrid, topCounts:topCountsWoollyGrid, topDens:topDensWoollyGrid,
   rBins:rightBinsWoollyOK, rCounts:rightCountsWoollyOK, rDens:rightDensWoollyOK},
  {pts:spiderAbund, fit:fitSpiderAbund, yr:[-0.153,2.318], yTicks:yTicksSpiderAbund, yDec:1,
   main:[130,330,264,187.3], topR:[130,294,264,35], rightR:[396,330,49,187.3],
   topBins:topBinsSpiderAbund, topCounts:topCountsSpiderAbund, topDens:topDensSpiderAbund,
   rBins:rightBinsSpiderAbund, rCounts:rightCountsSpiderAbund, rDens:rightDensSpiderAbund},
  {pts:spiderIDW, fit:fitSpiderIDW, yr:[-0.093,2.169], yTicks:yTicksSpiderIDW, yDec:1,
   main:[499,330,283,187.7], topR:[499,294,283,35], rightR:[784,330,38,187.7],
   topBins:topBinsSpiderGrid, topCounts:topCountsSpiderGrid, topDens:topDensSpiderGrid,
   rBins:rightBinsSpiderIDW, rCounts:rightCountsSpiderIDW, rDens:rightDensSpiderIDW},
  {pts:spiderOK, fit:fitSpiderOK, yr:[0.011,1.842], yTicks:yTicksSpiderOK, yDec:1,
   main:[890,330,283,187.3], topR:[890,294,283,35], rightR:[1176,330,47,187.3],
   topBins:topBinsSpiderGrid, topCounts:topCountsSpiderGrid, topDens:topDensSpiderGrid,
   rBins:rightBinsSpiderOK, rCounts:rightCountsSpiderOK, rDens:rightDensSpiderOK}
];
const XR = [-0.05, 1.05];
const grids = [], xAxes = [], yAxes = [], series = [];
function addGrid(r){ grids.push({left:r[0], top:r[1], width:r[2], height:r[3]}); return grids.length - 1; }
function axisCommon(ticks, dec){
  return {
    axisLine:{show:true, onZero:false, lineStyle:{color:'#1a1a1a', width:1}},
    axisTick:{show:true, length:3, customValues:ticks, lineStyle:{color:'#333', width:1}},
    axisLabel:{show:true, customValues:ticks, formatter:v => v.toFixed(dec), color:'#4d4d4d', fontSize:11, margin:4, fontFamily:'Liberation Sans'},
    splitLine:{show:false}
  };
}
const lineOpts = {symbol:'none', silent:true, smooth:0.35, lineStyle:{color:'#000', width:1}};

panels.forEach(p => {
  // main scatter panel
  const g = addGrid(p.main);
  xAxes.push(Object.assign({gridIndex:g, type:'value', min:XR[0], max:XR[1]}, axisCommon(X_TICKS, 2)));
  yAxes.push(Object.assign({gridIndex:g, type:'value', min:p.yr[0], max:p.yr[1]}, axisCommon(p.yTicks, p.yDec)));
  series.push({type:'scatter', xAxisIndex:g, yAxisIndex:g, data:p.pts, symbolSize:7, silent:true,
    itemStyle:{color:PT_COLOR}});
  const fit = p.fit;
  series.push({type:'custom', xAxisIndex:g, yAxisIndex:g, data:[[fit[0][0], fit[0][2]]], silent:true,
    renderItem:(params, api) => {
      const up = fit.map(r => api.coord([r[0], r[3]]));
      const lo = fit.slice().reverse().map(r => api.coord([r[0], r[1]]));
      return {type:'polygon', shape:{points:up.concat(lo)}, style:{fill:'rgba(153,153,153,0.4)'}};
    }});
  series.push({type:'line', xAxisIndex:g, yAxisIndex:g, data:fit.map(r => [r[0], r[2]]), symbol:'none', silent:true,
    lineStyle:{color:'#2b2b2b', width:2.2}});

  // top marginal histogram
  const gt = addGrid(p.topR);
  const tMax = Math.max(...p.topCounts);
  xAxes.push({gridIndex:gt, type:'value', min:XR[0], max:XR[1], show:false});
  yAxes.push({gridIndex:gt, type:'value', min:0, max:tMax, show:false});
  const tb = p.topBins;
  series.push({type:'custom', xAxisIndex:gt, yAxisIndex:gt, silent:true,
    data:p.topCounts.map((c, i) => [tb.start + i * tb.width, tb.start + (i + 1) * tb.width, c]),
    renderItem:(params, api) => {
      const a = api.coord([api.value(0), 0]), b = api.coord([api.value(1), api.value(2)]);
      return {type:'rect', shape:{x:a[0], y:b[1], width:b[0] - a[0], height:a[1] - b[1]},
        style:{fill:HIST_FILL, stroke:HIST_STROKE, lineWidth:0.9}};
    }});
  series.push(Object.assign({type:'line', xAxisIndex:gt, yAxisIndex:gt, data:p.topDens}, lineOpts));

  // right marginal histogram
  const gr = addGrid(p.rightR);
  const rMax = Math.max(...p.rCounts);
  xAxes.push({gridIndex:gr, type:'value', min:0, max:rMax, show:false});
  yAxes.push({gridIndex:gr, type:'value', min:p.yr[0], max:p.yr[1], show:false});
  const rb = p.rBins;
  series.push({type:'custom', xAxisIndex:gr, yAxisIndex:gr, silent:true,
    data:p.rCounts.map((c, i) => [rb.first + (i - 0.5) * rb.width, rb.first + (i + 0.5) * rb.width, c]),
    renderItem:(params, api) => {
      const a = api.coord([0, api.value(0)]), b = api.coord([api.value(2), api.value(1)]);
      return {type:'rect', shape:{x:a[0], y:b[1], width:b[0] - a[0], height:a[1] - b[1]},
        style:{fill:HIST_FILL, stroke:HIST_STROKE, lineWidth:0.9}};
    }});
  series.push(Object.assign({type:'line', xAxisIndex:gr, yAxisIndex:gr, data:p.rDens}, lineOpts));
});

function vtext(x, y, txt, size){
  return {type:'text', x:x, y:y, rotation:Math.PI / 2, silent:true,
    style:{text:txt, fontSize:size, fontFamily:'Liberation Sans', fill:'#000', align:'center', verticalAlign:'middle'}};
}
const capFont = {fontSize:18.9, fontFamily:'Open Sans', fill:'#666666'};
const capRich = {i:Object.assign({fontStyle:'italic'}, capFont)};
function capLine(y, txt){
  return {type:'text', x:18, y:y, silent:true,
    style:Object.assign({text:txt, rich:capRich, align:'left', verticalAlign:'middle'}, capFont)};
}

const option = {
  animation:false,
  textStyle:{fontFamily:'Liberation Sans'},
  grid:grids, xAxis:xAxes, yAxis:yAxes, series:series,
  graphic:[
    {type:'line', silent:true, shape:{x1:8, y1:8.5, x2:1290, y2:8.5}, style:{stroke:'#d0d0d0', lineWidth:1}},
    {type:'line', silent:true, shape:{x1:8.5, y1:8, x2:8.5, y2:700}, style:{stroke:'#d0d0d0', lineWidth:1}},
    vtext(76, 169, 'Woolly monkeys', 21),
    vtext(94, 162, 'logAbund', 15),
    vtext(74, 422, 'Spider monkeys', 21),
    vtext(93, 415, 'logAbund', 15),
    vtext(463, 173, 'logIDW', 15),
    vtext(464, 425, 'logIDW', 15),
    vtext(855, 173, 'logOK', 15),
    vtext(855, 424, 'logOK', 15),
    {type:'text', x:642, y:556, silent:true, style:{text:'Habitat suitability', fontSize:18, fontFamily:'Liberation Sans', fill:'#000', align:'center', verticalAlign:'middle'}},
    {type:'text', x:18, y:597, silent:true, style:{text:'FIGURE 3', fontSize:13, fontWeight:600, fontFamily:'Open Sans', fill:'#555', align:'left', verticalAlign:'middle'}},
    capLine(621, 'Relationship between habitat suitability and log-transformed observed and predicted abundances for gray woolly monkeys ({i|Lagotrhix lagotricha}'),
    capLine(645, '{i|cana}) and black-faced black spider monkeys ({i|Ateles chamek}). Abundances were interpolated using Inverse distance weighting (IDW) and'),
    capLine(669, 'Ordinary kriging (OK).')
  ]
};
const chart = echarts.init(document.getElementById('c'), null, {renderer:'canvas'});
chart.setOption(option);
</script></body></html>
